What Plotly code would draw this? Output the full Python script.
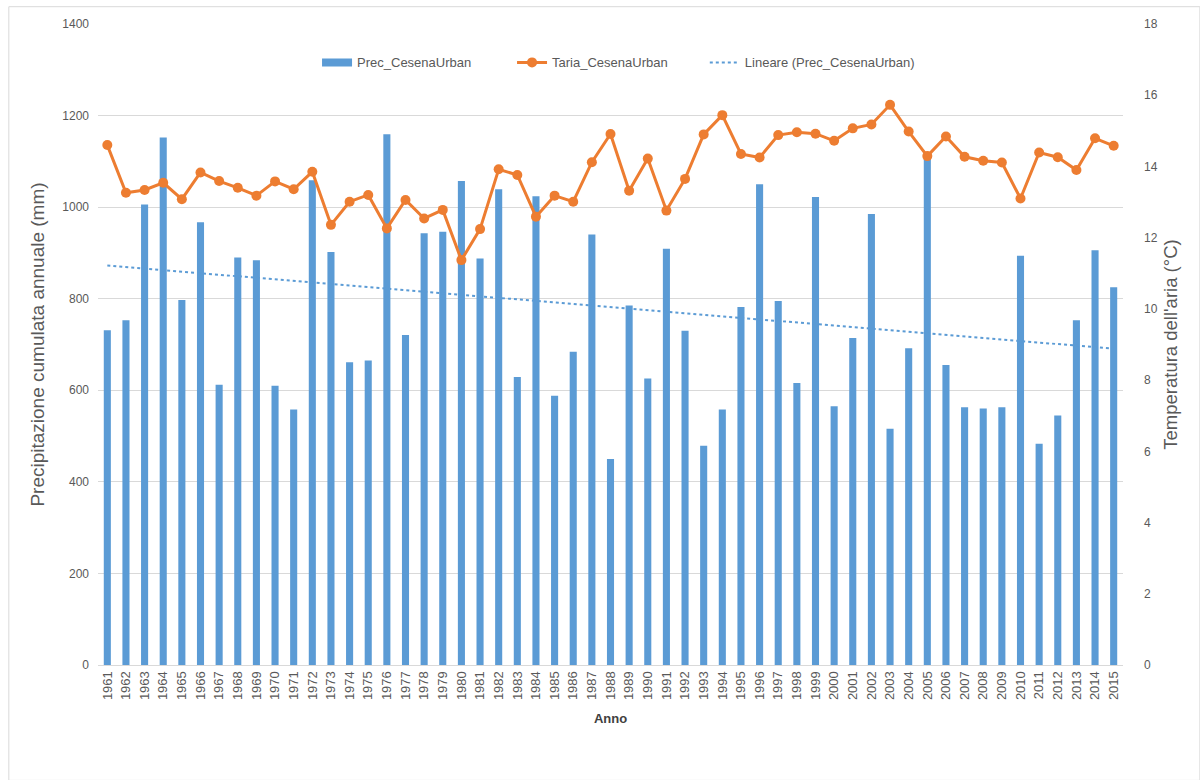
import numpy as np
import plotly.graph_objects as go

# Annual series for the Cesena urban station
years = [str(y) for y in range(1961, 2016)]

prec_mm = [731, 753, 1006, 1152, 797, 967, 612, 890, 884, 610,
           558, 1059, 902, 661, 665, 1159, 721, 943, 946, 1057,
           888, 1039, 629, 1024, 588, 684, 940, 450, 785, 626,
           909, 730, 479, 558, 782, 1050, 795, 616, 1022, 565,
           714, 985, 516, 692, 1106, 655, 563, 560, 563, 894,
           483, 545, 753, 906, 825]

taria_c = [14.60, 13.26, 13.34, 13.54, 13.08, 13.83, 13.59, 13.40, 13.18, 13.58,
           13.36, 13.85, 12.36, 13.01, 13.20, 12.26, 13.06, 12.54, 12.78, 11.37,
           12.24, 13.92, 13.76, 12.59, 13.18, 13.01, 14.12, 14.91, 13.32, 14.22,
           12.76, 13.65, 14.90, 15.44, 14.35, 14.25, 14.88, 14.96, 14.92, 14.72,
           15.07, 15.18, 15.73, 14.98, 14.29, 14.84, 14.27, 14.16, 14.11, 13.10,
           14.39, 14.26, 13.90, 14.79, 14.58]

left_ticks = [0, 200, 400, 600, 800, 1000, 1200, 1400]
right_ticks = [0, 2, 4, 6, 8, 10, 12, 14, 16, 18]

# Linear least-squares trend of the precipitation series
idx = np.arange(len(prec_mm))
slope, intercept = np.polyfit(idx, prec_mm, 1)
trend = intercept + slope * idx

BLUE = "#5b9bd5"
ORANGE = "#ed7d31"
GREY_TXT = "#595959"
GRID = "#d9d9d9"
FONT = "Liberation Sans"

fig = go.Figure()

fig.add_trace(go.Bar(
    x=years, y=prec_mm, name="Prec_CesenaUrban",
    marker=dict(color=BLUE, line=dict(width=0)),
    yaxis="y", showlegend=False, legendrank=1,
))

# legend entry for the bars, drawn as a wide flat swatch
fig.add_trace(go.Scatter(
    x=[None], y=[None], name="Prec_CesenaUrban",
    mode="lines", line=dict(color=BLUE, width=8),
    yaxis="y", legendrank=1, legend="legend",
))

fig.add_trace(go.Scatter(
    x=years, y=taria_c, name="Taria_CesenaUrban",
    mode="lines+markers",
    line=dict(color=ORANGE, width=3),
    marker=dict(color=ORANGE, size=10),
    yaxis="y2", legendrank=2, legend="legend",
))

fig.add_trace(go.Scatter(
    x=years, y=trend, name="Lineare (Prec_CesenaUrban)",
    mode="lines",
    line=dict(color=BLUE, width=2, dash="dot"),
    yaxis="y", legend="legend2",
))

legend_common = dict(
    orientation="h",
    y=0.94, yanchor="middle",
    xanchor="left",
    bgcolor="rgba(0,0,0,0)",
    font=dict(family=FONT, size=13, color=GREY_TXT),
    itemwidth=30,
)

fig.update_layout(
    width=1200, height=780,
    margin=dict(l=98, r=77, t=24, b=115),
    paper_bgcolor="white", plot_bgcolor="white",
    bargap=0.62,
    font=dict(family=FONT, color=GREY_TXT, size=12),
    showlegend=True,
    legend=dict(legend_common, x=0.2137, entrywidth=150),
    legend2=dict(legend_common, x=0.5920),
    xaxis=dict(
        type="category",
        range=[-0.5, len(years) - 0.5],
        tickangle=-90,
        tickfont=dict(family=FONT, size=13, color=GREY_TXT),
        showgrid=False,
        showline=True, linecolor=GRID, linewidth=1,
        ticks="",
        title=dict(text="<b>Anno</b>", font=dict(family=FONT, size=13, color="#404040"), standoff=14),
    ),
    yaxis=dict(
        range=[0, 1400],
        tickvals=left_ticks,
        ticktext=[str(v) for v in left_ticks],
        tickfont=dict(family=FONT, size=12, color=GREY_TXT),
        ticklabelstandoff=8,
        showgrid=True, gridcolor=GRID, gridwidth=1,
        zeroline=False, showline=False,
        ticks="", ticklen=0,
        title=dict(text="Precipitazione cumulata annuale (mm)",
                   font=dict(family=FONT, size=19, color=GREY_TXT), standoff=12),
    ),
    yaxis2=dict(
        range=[0, 18],
        tickvals=right_ticks,
        ticktext=[str(v) for v in right_ticks],
        overlaying="y", side="right",
        tickfont=dict(family=FONT, size=12, color=GREY_TXT),
        ticklabelstandoff=20,
        showgrid=False, zeroline=False, showline=False,
        ticks="",
        title=dict(text="Temperatura dell'aria (°C)",
                   font=dict(family=FONT, size=18.5, color=GREY_TXT), standoff=7),
    ),
    shapes=[dict(
        type="rect", xref="paper", yref="paper",
        x0=-0.087, x1=1.075, y0=-0.18, y1=1.027,
        line=dict(color="#d9d9d9", width=1),
        fillcolor="rgba(0,0,0,0)", layer="below",
    )],
)

fig.write_html("out.html")
